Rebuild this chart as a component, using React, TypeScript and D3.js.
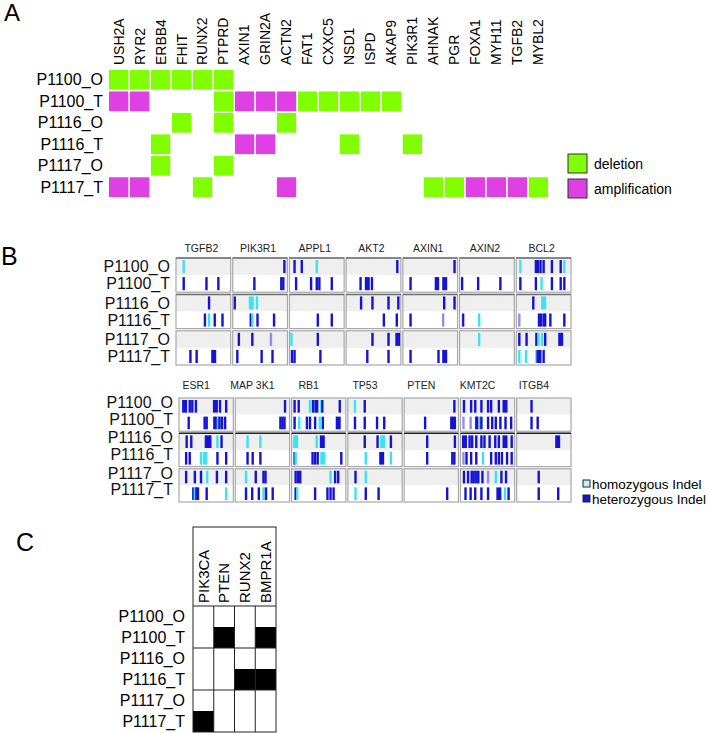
import { useEffect, useRef } from "react";
import { select, scaleBand, scaleLinear } from "d3";

const width = 709;
const height = 733;
const font = "'Liberation Sans', Arial, sans-serif";

const samples = ["P1100_O", "P1100_T", "P1116_O", "P1116_T", "P1117_O", "P1117_T"];
const patients = ["P1100", "P1116", "P1117"];

// A: copy number changes
const cnvGenes = ["USH2A", "RYR2", "ERBB4", "FHIT", "RUNX2", "PTPRD", "AXIN1", "GRIN2A", "ACTN2", "FAT1", "CXXC5",
  "NSD1", "ISPD", "AKAP9", "PIK3R1", "AHNAK", "PGR", "FOXA1", "MYH11", "TGFB2", "MYBL2"];
const deletions = [
  ["P1100_O", "USH2A"], ["P1100_O", "RYR2"], ["P1100_O", "ERBB4"], ["P1100_O", "FHIT"], ["P1100_O", "RUNX2"], ["P1100_O", "PTPRD"],
  ["P1100_T", "PTPRD"], ["P1100_T", "FAT1"], ["P1100_T", "CXXC5"], ["P1100_T", "NSD1"], ["P1100_T", "ISPD"], ["P1100_T", "AKAP9"],
  ["P1116_O", "FHIT"], ["P1116_O", "PTPRD"], ["P1116_O", "ACTN2"],
  ["P1116_T", "ERBB4"], ["P1116_T", "NSD1"], ["P1116_T", "PIK3R1"],
  ["P1117_O", "ERBB4"], ["P1117_O", "PTPRD"],
  ["P1117_T", "RUNX2"], ["P1117_T", "AHNAK"], ["P1117_T", "PGR"], ["P1117_T", "MYBL2"],
];
const amplifications = [
  ["P1100_T", "USH2A"], ["P1100_T", "RYR2"], ["P1100_T", "AXIN1"], ["P1100_T", "GRIN2A"], ["P1100_T", "ACTN2"],
  ["P1116_T", "AXIN1"], ["P1116_T", "GRIN2A"],
  ["P1117_T", "USH2A"], ["P1117_T", "RYR2"], ["P1117_T", "ACTN2"], ["P1117_T", "FOXA1"], ["P1117_T", "MYH11"], ["P1117_T", "TGFB2"],
];

// B: indels, one string per sample (same order as samples)
// value = % position inside the gene window, h = homozygous, w = wide cluster, f = faint
const indelGenesTop = ["TGFB2", "PIK3R1", "APPL1", "AKT2", "AXIN1", "AXIN2", "BCL2"];
const indelTGFB2 = ["12h", "12 56 79", "61", "53 61h 72 87", "", "25 37 70w"];
const indelPIK3R1 = ["97", "39 91 95", "1 33hw 44h", "32 35h 45 77", "9 35 71f", "6 53 74"];
const indelAPPL1 = ["7 21 50h", "10 39 50 55 79", "", "52 79", "1h 52", "2 7 57"];
const indelAKT2 = ["96", "25 38w 47", "26 48 79 98", "70 95", "48 79 97w", "38 79"];
const indelAXIN1 = ["97", "12 61 65 78w", "77 97", "12 75f", "", "12 66 78w"];
const indelAXIN2 = ["", "2 33 76", "", "4 35h", "35h", ""];
const indelBCL2 = ["5h 35 39 44 50 66 83 90h", "5 35 46h 66 83 90", "30 50hw", "3f 41 45 50 53 63 90",
  "3 17 36 40h 47h 53 83w", "3h 16h 36h 41w 50"];

const indelGenesBottom = ["ESR1", "MAP 3K1", "RB1", "TP53", "PTEN", "KMT2C", "ITGB4"];
const indelESR1 = ["8w 18 23 30 68w 77 89", "16 47 51 66 69 73h 76 81 87", "12 21 52w 58 72h 80",
  "11 18 40h 46h 50h 72 89", "11 28 40 52h 71 89", "25 28h 31 34 51 89h"];
const indelMAP3K1 = ["94", "85 89 93", "21h 46h", "21 31 46", "18h 37 52 56", "18 30 43 52h 57 70"];
const indelRB1 = ["3 11 33h 39 44 47 55h 57 91", "3 12h 27 33 43 52h 58 88w", "5hw 46h 57w",
  "3 5h 38 43 48 58hw 94", "5 10 14 73h 82 88", "5 8h 43 67 73 79"];
const indelTP53 = ["11h 30", "11 30 54 68", "30 55 65hw 81", "32h 63w 81h", "12 32h", "12h 32 57"];
const indelPTEN = ["95", "38 89 92 96", "42 96", "42 91 95", "", "81"];
const indelKMT2C = ["4 18 26 38 51 57 72 84w", "3f 17f 28 30 35h 38 51 59 66 75 85 96",
  "5w 15 20 28 38 44 54 65 72 84w 97", "3f 9 18 28 41h 57 66 72 78 88 97",
  "4 12 19 23 28 32 40 51f 66h 77 86", "7 17 26 38 51 72w 84h 91"];
const indelITGB4 = ["26", "26 38", "77w", "", "40", "40 78"];

const indelsTop = [indelTGFB2, indelPIK3R1, indelAPPL1, indelAKT2, indelAXIN1, indelAXIN2, indelBCL2];
const indelsBottom = [indelESR1, indelMAP3K1, indelRB1, indelTP53, indelPTEN, indelKMT2C, indelITGB4];

// C: germline variants
const germGenes = ["PIK3CA", "PTEN", "RUNX2", "BMPR1A"];
const germHits = [["P1100_T", "PTEN"], ["P1100_T", "BMPR1A"], ["P1116_T", "RUNX2"], ["P1116_T", "BMPR1A"], ["P1117_T", "PIK3CA"]];

const green = "#80ff00";
const magenta = "#df40e4";
const cyan = "#38e4f0";
const blue = "#1414d2";

const parseCalls = (s) => s.split(" ").filter(t => t).map(t => ({
  pos: parseFloat(t),
  hom: t.includes("h"),
  wide: t.includes("w"),
  faint: t.includes("f"),
}));

function drawIndelPanel(g, genes, data, xr, yr, labelY, labelShift, rowLabelX, rowLabelShift, darkTop) {
  const bx = scaleBand().domain(genes).range(xr).paddingInner(0.035);
  const gy = scaleBand().domain(patients).range(yr).paddingInner(0.06);
  const rowH = gy.bandwidth() / 2;

  g.selectAll(".glabel").data(genes).enter().append("text")
    .attr("x", d => bx(d) + bx.bandwidth() / 2 + labelShift)
    .attr("y", labelY)
    .attr("text-anchor", "middle")
    .attr("font-size", 10.5)
    .attr("fill", "#222")
    .text(d => d);

  samples.forEach((s, si) => {
    const p = patients[Math.floor(si / 2)];
    const top = gy(p) + (si % 2) * rowH;
    g.append("text")
      .attr("x", rowLabelX).attr("y", top + rowH / 2 + rowLabelShift)
      .attr("dy", "0.35em").attr("text-anchor", "end")
      .attr("font-size", 16).attr("fill", "#111")
      .text(s);
  });

  genes.forEach((gene, gi) => {
    const x0 = bx(gene);
    const w = bx.bandwidth();
    const px = scaleLinear().domain([0, 100]).range([x0 + 1.5, x0 + w - 1.5]);
    patients.forEach((p, pi) => {
      const y0 = gy(p);
      g.append("rect").attr("x", x0).attr("y", y0).attr("width", w).attr("height", rowH)
        .attr("fill", "#efefef");
      g.append("rect").attr("x", x0).attr("y", y0 + rowH).attr("width", w).attr("height", rowH)
        .attr("fill", "#fff");
      [0, 1].forEach(k => {
        const calls = parseCalls(data[gi][pi * 2 + k]);
        const top = y0 + k * rowH;
        g.selectAll(null).data(calls).enter().append("rect")
          .attr("x", d => px(d.pos) - (d.wide ? 2.5 : 1.2))
          .attr("y", top + 2)
          .attr("width", d => (d.wide ? 5 : 2.4))
          .attr("height", rowH - 4)
          .attr("fill", d => (d.hom ? cyan : d.faint ? "#8f8fe6" : blue));
      });
      g.append("rect").attr("x", x0).attr("y", y0).attr("width", w).attr("height", gy.bandwidth())
        .attr("fill", "none").attr("stroke", "#a8a8a8").attr("stroke-width", 1.2);
      if (darkTop.includes(pi)) {
        g.append("line").attr("x1", x0).attr("x2", x0 + w).attr("y1", y0).attr("y2", y0)
          .attr("stroke", pi === 1 && darkTop.length === 1 ? "#222" : "#707070").attr("stroke-width", 1.5);
      }
    });
  });
}

export default function App() {
  const ref = useRef(null);

  useEffect(() => {
    const svg = select(ref.current);
    svg.selectAll("*").remove();
    svg.style("font-family", font);

    // ---------- A ----------
    const gA = svg.append("g");
    gA.append("text").attr("x", 4).attr("y", 21).attr("font-size", 24).text("A");
    const xA = scaleBand().domain(cnvGenes).range([109, 548]).paddingInner(0.08);
    const yA = scaleBand().domain(samples).range([70, 197]).paddingInner(0.08);

    gA.selectAll(".gene").data(cnvGenes).enter().append("text")
      .attr("transform", d => `translate(${xA(d) + xA.bandwidth() / 2},65) rotate(-90)`)
      .attr("dy", "0.35em")
      .attr("font-size", 14)
      .text(d => d);
    gA.selectAll(".sample").data(samples).enter().append("text")
      .attr("x", 103).attr("y", d => yA(d) + yA.bandwidth() / 2)
      .attr("dy", "0.35em").attr("text-anchor", "end").attr("font-size", 16)
      .text(d => d);
    gA.selectAll(".del").data(deletions).enter().append("rect")
      .attr("x", d => xA(d[1])).attr("y", d => yA(d[0]))
      .attr("width", xA.bandwidth()).attr("height", yA.bandwidth())
      .attr("fill", green);
    gA.selectAll(".amp").data(amplifications).enter().append("rect")
      .attr("x", d => xA(d[1])).attr("y", d => yA(d[0]))
      .attr("width", xA.bandwidth()).attr("height", yA.bandwidth())
      .attr("fill", magenta);

    const legA = [["deletion", green], ["amplification", magenta]];
    legA.forEach(([label, color], i) => {
      gA.append("rect").attr("x", 568).attr("y", 154 + i * 25).attr("width", 19).attr("height", 19)
        .attr("fill", color).attr("stroke", "#333").attr("stroke-width", 1);
      gA.append("text").attr("x", 594).attr("y", 164 + i * 25).attr("dy", "0.35em")
        .attr("font-size", 14).text(label);
    });

    // ---------- B ----------
    const gB = svg.append("g");
    gB.append("text").attr("x", 1).attr("y", 265).attr("font-size", 25).text("B");
    drawIndelPanel(gB.append("g"), indelGenesTop, indelsTop, [176, 571], [258, 365], 252, -2, 170, 0, [0, 1]);
    drawIndelPanel(gB.append("g"), indelGenesBottom, indelsBottom, [179, 571], [398, 502], 389, -10, 173, -4, [1]);

    const legB = [["homozygous Indel", "#b8f4f8"], ["heterozygous Indel", blue]];
    legB.forEach(([label, color], i) => {
      gB.append("rect").attr("x", 583).attr("y", 480 + i * 15).attr("width", 7).attr("height", 7)
        .attr("fill", color).attr("stroke", "#222").attr("stroke-width", 1);
      gB.append("text").attr("x", 592).attr("y", 484 + i * 15).attr("dy", "0.35em")
        .attr("font-size", 13.5).text(label);
    });

    // ---------- C ----------
    const gC = svg.append("g");
    gC.append("text").attr("x", 16).attr("y", 551).attr("font-size", 25).text("C");
    const xC = scaleBand().domain(germGenes).range([193, 276]);
    const yC = scaleBand().domain(samples).range([606, 732]);
    const headTop = 527;

    gC.selectAll(".hit").data(germHits).enter().append("rect")
      .attr("x", d => xC(d[1])).attr("y", d => yC(d[0]))
      .attr("width", xC.bandwidth()).attr("height", yC.bandwidth())
      .attr("fill", "#000");
    gC.selectAll(".ghead").data(germGenes).enter().append("text")
      .attr("transform", d => `translate(${xC(d) + xC.bandwidth() / 2},603) rotate(-90)`)
      .attr("dy", "0.35em").attr("font-size", 15)
      .text(d => d);
    gC.selectAll(".srow").data(samples).enter().append("text")
      .attr("x", 185).attr("y", d => yC(d) + yC.bandwidth() / 2)
      .attr("dy", "0.35em").attr("text-anchor", "end").attr("font-size", 16)
      .text(d => d);

    const lineC = "#222";
    gC.append("rect").attr("x", 193).attr("y", headTop).attr("width", 83).attr("height", 732 - headTop)
      .attr("fill", "none").attr("stroke", lineC).attr("stroke-width", 1);
    gC.selectAll(".vl").data(germGenes.slice(1)).enter().append("line")
      .attr("x1", d => xC(d)).attr("x2", d => xC(d))
      .attr("y1", 606).attr("y2", 732)
      .attr("stroke", lineC).attr("stroke-width", 1);
    gC.selectAll(".hl").data(["P1116_O", "P1117_O"]).enter().append("line")
      .attr("x1", 193).attr("x2", 276)
      .attr("y1", d => yC(d)).attr("y2", d => yC(d))
      .attr("stroke", lineC).attr("stroke-width", 1.2);
    gC.append("line").attr("x1", 193).attr("x2", 276).attr("y1", 606).attr("y2", 606)
      .attr("stroke", lineC).attr("stroke-width", 1.2);
  }, []);

  return (
    <div style={{ position: "absolute", left: 0, top: 0 }}>
      <svg ref={ref} width={width} height={height} style={{ display: "block", background: "#fff" }} />
    </div>
  );
}
